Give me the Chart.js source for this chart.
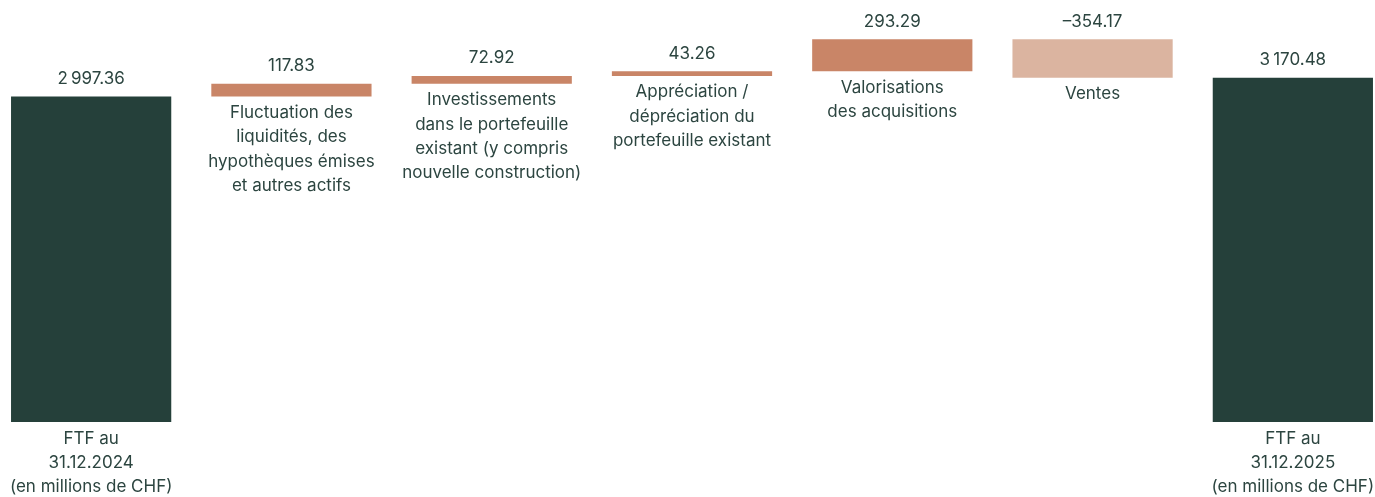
<!DOCTYPE html>
<html lang="fr">
<head>
<meta charset="utf-8">
<title>FTF 2024 - 2025</title>
<script src="https://cdn.jsdelivr.net/npm/chart.js@4.4.1/dist/chart.umd.min.js"></script>
<style>
  html, body { margin: 0; padding: 0; background: #ffffff; overflow: hidden; }
  #wrap { position: absolute; left: -9px; top: 0; width: 1402px; height: 497px; }
</style>
</head>
<body>
<div id="wrap"><canvas id="waterfallChart"></canvas></div>
<script>
// ===================================
// DATA
// ===================================
const categories = [
    ['FTF au', '31.12.2024', '(en millions de CHF)'],
    ['Fluctuation des', 'liquidités, des', 'hypothèques émises', 'et autres actifs'],
    ['Investissements', 'dans le portefeuille', 'existant (y compris', 'nouvelle construction)'],
    ['Appréciation /', 'dépréciation du', 'portefeuille existant'],
    ['Valorisations', 'des acquisitions'],
    ['Ventes'],
    ['FTF au', '31.12.2025', '(en millions de CHF)']
];
const startValue = 2997.36;
const changes = [117.83, 72.92, 43.26, 293.29, -354.17];
const endValue = 3170.48;

const darkGreen = '#25403a';
const salmon = '#c98567';
const lightSalmon = '#dbb4a0';
const textColor = '#2c4540';

// --- build floating bars from the values ---
const bars = [[0, startValue]];
const labelsValue = [startValue];
const colors = [darkGreen];
let running = startValue;
changes.forEach(function (c) {
    bars.push([running, running + c]);
    labelsValue.push(c);
    colors.push(c < 0 ? lightSalmon : salmon);
    running += c;
});
bars.push([0, endValue]);
labelsValue.push(endValue);
colors.push(darkGreen);

function formatValue(v) {
    const parts = Math.abs(v).toFixed(2).split('.');
    const intPart = parts[0].replace(/\B(?=(\d{3})+(?!\d))/g, '\u2009');
    return (v < 0 ? '\u2013' : '') + intPart + '.' + parts[1];
}

// ===================================
// LABEL PLUGIN
// ===================================
const barLabels = {
    id: 'barLabels',
    afterDatasetsDraw(chart) {
        const ctx = chart.ctx;
        const meta = chart.getDatasetMeta(0);
        ctx.save();
        ctx.fillStyle = textColor;
        ctx.font = '17px Inter, "Noto Sans", sans-serif';
        ctx.textAlign = 'center';
        ctx.textBaseline = 'middle';
        meta.data.forEach(function (bar, i) {
            const top = Math.min(bar.y, bar.base);
            const bottom = Math.max(bar.y, bar.base);
            ctx.fillText(formatValue(labelsValue[i]), bar.x, top - 17.5);
            categories[i].forEach(function (line, k) {
                ctx.fillText(line, bar.x, bottom + 16.5 + k * 24.3);
            });
        });
        ctx.restore();
    }
};

// ===================================
// CHART CONFIG
// ===================================
const waterfallConfig = {
    type: 'bar',
    data: {
        labels: categories.map(function (c) { return c.join(' '); }),
        datasets: [{
            data: bars,
            backgroundColor: colors,
            borderWidth: 0,
            barPercentage: 0.8,
            categoryPercentage: 1.0
        }]
    },
    options: {
        responsive: true,
        maintainAspectRatio: false,
        animation: false,
        layout: { padding: { top: 0, bottom: 75, left: 0, right: 0 } },
        plugins: {
            legend: { display: false },
            tooltip: { enabled: false }
        },
        scales: {
            x: { display: false, offset: true },
            y: { display: false, min: 0, max: 3887 }
        }
    },
    plugins: [barLabels]
};

const ctxWf = document.getElementById('waterfallChart').getContext('2d');
new Chart(ctxWf, waterfallConfig);
</script>
</body>
</html>
